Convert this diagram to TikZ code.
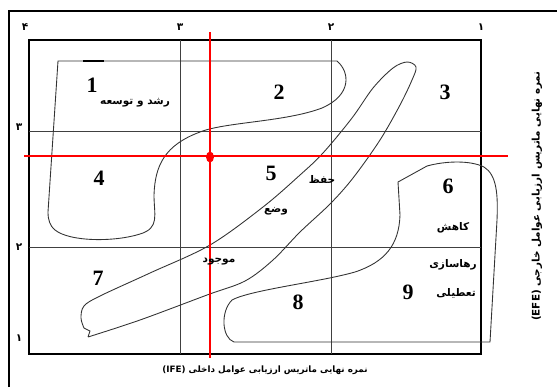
\documentclass[tikz,border=0pt]{standalone}
\usepackage{fontspec}
\setmainfont{Liberation Serif}
\newfontfamily\farsifont[Script=Arabic]{DejaVu Sans}
\TeXXeTstate=1
\usepackage{tikz}
\usetikzlibrary{positioning}

\begin{document}
\begin{tikzpicture}[x=0.02cm,y=-0.02cm,
    gridline/.style={line width=0.4pt, black!75},
    boxline/.style={line width=1.3pt},
    redline/.style={red, line width=0.7pt},
    zone/.style={line width=0.5pt, black!80},
    cellnum/.style={font=\fontsize{12.5}{14}\selectfont\bfseries},
    farsi/.style={font=\farsifont\fontsize{6}{7}\selectfont\bfseries},
    ticknum/.style={font=\farsifont\fontsize{6}{7}\selectfont\bfseries},
    axtitle/.style={font=\farsifont\fontsize{5}{6}\selectfont\bfseries}]
    \useasboundingbox (0,0) rectangle (557,387);

    % Frame and grid
    \draw[line width=0.6pt] (9,387) -- (9,11) -- (557,11);
    \draw[boxline] (29,40) rectangle (481,354);
    \draw[gridline] (180,40) -- (180,354);
    \draw[gridline] (331,40) -- (331,354);
    \draw[gridline] (29,131) -- (481,131);
    \draw[gridline] (29,247) -- (481,247);

    % Scale values
    \node[ticknum] (x4) at (25,27) {۴};
    \node[ticknum] (x3) at (180,27) {۳};
    \node[ticknum] (x2) at (331,27) {۲};
    \node[ticknum] (x1) at (481,27) {۱};
    \node[ticknum] (y3) at (19,127) {۳};
    \node[ticknum] (y2) at (19,247) {۲};
    \node[ticknum] (y1) at (19,338) {۱};

    % Zones
    \draw[zone] (48,212) -- (58,61) -- (337,61)
        .. controls (350,72) and (352,95) .. (322,108)
        .. controls (285,122) and (225,122) .. (200,132)
        .. controls (165,145) and (155,165) .. (154,195)
        .. controls (154,215) and (160,228) .. (140,234)
        .. controls (115,242) and (70,242) .. (55,230)
        .. controls (50,226) and (48,220) .. (48,212);
    \draw[line width=1pt] (83,61) -- (104,61);
    \draw[zone] plot[smooth, tension=0.55] coordinates {(88,337) (140,320) (207,295)
        (245,281) (273,260) (300,232) (330,204) (353,178) (380,140) (400,105) (412,80)
        (416,67) (407,62) (393,68) (373,88) (352,118) (323,153) (300,175) (263,207)
        (210,245) (150,273) (100,296) (84,306) (81,318) (84,328)} -- (90,331) -- (88,337);
    \draw[zone] (398,182) -- (427,166)
        .. controls (445,161) and (470,160) .. (484,167)
        .. controls (497,175) and (498,195) .. (497,220)
        -- (490,342) -- (234,342)
        .. controls (222,338) and (220,312) .. (232,300)
        .. controls (250,290) and (320,282) .. (355,272)
        .. controls (385,262) and (399,245) .. (400,215) -- cycle;

    % Current position
    \draw[redline] (210,32) -- (210,358);
    \draw[redline] (24,156) -- (508,156);
    \fill[red] (210,157) ellipse (4 and 5.5);

    % Cell numbers
    \node[cellnum] (c1) at (92,85) {1};
    \node[cellnum] (c2) at (279,92) {2};
    \node[cellnum] (c3) at (445,92) {3};
    \node[cellnum] (c4) at (99,178) {4};
    \node[cellnum] (c5) at (271,173) {5};
    \node[cellnum] (c6) at (448,186) {6};
    \node[cellnum] (c7) at (98,278) {7};
    \node[cellnum] (c8) at (298,302) {8};
    \node[cellnum] (c9) at (408,292) {9};

    % Strategy labels
    \node[farsi] (grow) at (135,103) {\beginR رشد و توسعه\endR};
    \node[farsi] (keep) at (322,179) {\beginR حفظ\endR};
    \node[farsi] (stat1) at (276,211) {\beginR وضع\endR};
    \node[farsi] (stat2) at (219,262) {\beginR موجود\endR};
    \node[farsi] (cut1) at (453,228) {\beginR کاهش\endR};
    \node[farsi] (cut2) at (453,265) {\beginR رهاسازی\endR};
    \node[farsi] (cut3) at (456,293) {\beginR تعطیلی\endR};

    % Axis titles
    \node[axtitle] (ife) at (265,370) {\beginR نمره نهایی ماتریس ارزیابی عوامل داخلی \beginL(IFE)\endL\endR};
    \node[axtitle, font=\farsifont\fontsize{5.9}{7}\selectfont\bfseries, rotate=90] (efe) at (537,196) {\beginR نمره نهایی ماتریس ارزیابی عوامل خارجی \beginL(EFE)\endL\endR};
\end{tikzpicture}
\end{document}
